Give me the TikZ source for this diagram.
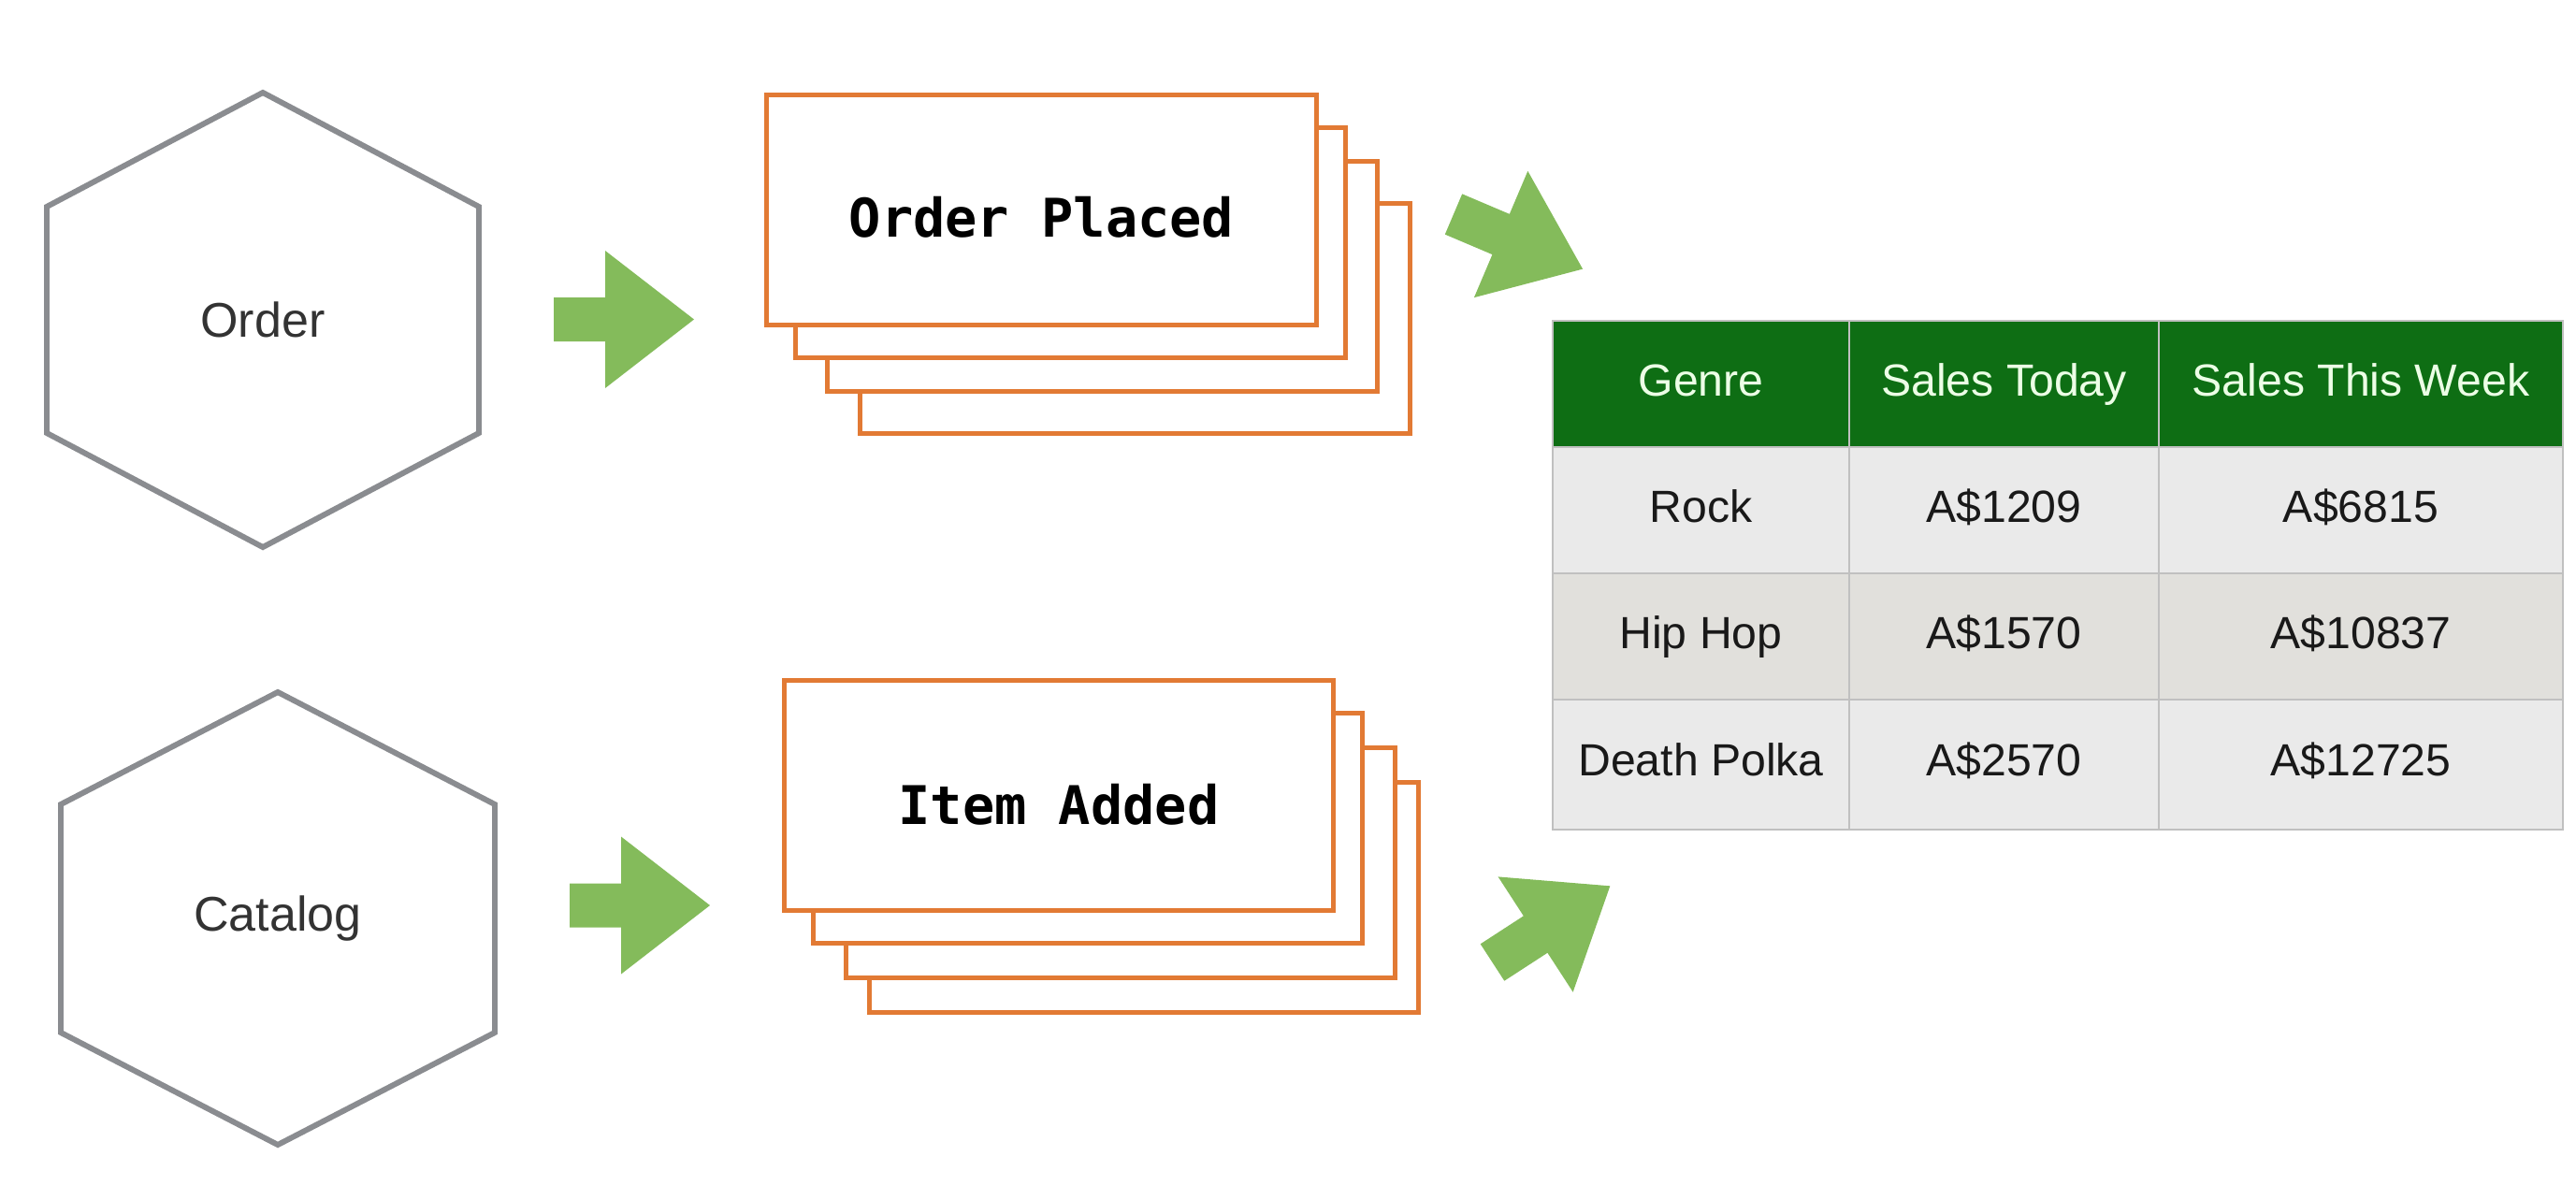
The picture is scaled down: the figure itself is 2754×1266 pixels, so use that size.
\documentclass[tikz,border=0pt]{standalone}
\usepackage{fontspec}
\setmainfont{Liberation Sans}
\newfontfamily\cardfont{DejaVu Sans Mono}
\definecolor{hexgray}{RGB}{138,140,144}
\definecolor{cardorange}{RGB}{226,122,52}
\definecolor{arrowgreen}{RGB}{132,187,91}
\definecolor{headgreen}{RGB}{14,110,20}
\definecolor{rowlight}{RGB}{234,234,234}
\definecolor{rowdark}{RGB}{225,224,220}
\definecolor{gridgray}{RGB}{192,192,192}
\definecolor{headtext}{RGB}{236,255,230}

\begin{document}
\begin{tikzpicture}[x=0.01cm,y=-0.01cm,
    hexline/.style={draw=hexgray,line width=1.7pt},
    hexlabel/.style={font=\fontsize{14.8}{18}\selectfont,text=black!80},
    card/.style={draw=cardorange,fill=white,line width=1.4pt,minimum width=5.87cm,minimum height=2.45cm,inner sep=0pt,font=\cardfont\bfseries\fontsize{16.2}{20}\selectfont},
    cardtxt/.style={font=\cardfont\bfseries\fontsize{16.2}{20}\selectfont},
    headtxt/.style={font=\fontsize{13.7}{16}\selectfont,text=headtext,text height=1.6ex,text depth=0.4ex},
    celltxt/.style={font=\fontsize{13.7}{16}\selectfont,text=black!90,text height=1.6ex,text depth=0.4ex},
    fatarrow/.pic={\fill[arrowgreen] (0,-23.5) -- (55,-23.5) -- (55,-73.5) -- (150,0) -- (55,73.5) -- (55,23.5) -- (0,23.5) -- cycle;}]
        \useasboundingbox (0,0) rectangle (2754,1266);
        % aggregates
        \node[hexlabel] (order) at (281,342) {Order};
        \draw[hexline,shift={(order.center)}] (0,-243) -- (231,-121) -- (231,121) -- (0,243) -- (-231,121) -- (-231,-121) -- cycle;
        \node[hexlabel] (catalog) at (297,982) {Catalog};
        \draw[hexline,shift={(catalog.center)}] (0,-242) -- (232,-122) -- (232,122) -- (0,242) -- (-232,122) -- (-232,-122) -- cycle;
        % event stacks
        \foreach \dx/\dy [count=\i] in {100/116,65/71,31/35}
            \node[card] (placedback\i) at ({1113.5+\dx},{224.5+\dy}) {};
        \node[card] (placed) at (1113.5,224.5) {};
        \node[cardtxt] (placedtxt) at (1113.5,232) {Order Placed};
        \foreach \dx/\dy [count=\i] in {91/109,66/72,31/35}
            \node[card] (addedback\i) at ({1132+\dx},{850.5+\dy}) {};
        \node[card] (added) at (1132,850.5) {};
        \node[cardtxt] (addedtxt) at (1132,860) {Item Added};
        % arrows
        \pic at (592,341.5) {fatarrow};
        \pic at (609,968) {fatarrow};
        \pic[rotate=-23] at (1554,229) {fatarrow};
        \pic[rotate=33] at (1595.5,1029) {fatarrow};
        % read model
        \fill[headgreen] (1660,343) rectangle (2740,478);
        \fill[rowlight] (1660,478) rectangle (2740,613);
        \fill[rowdark] (1660,613) rectangle (2740,748);
        \fill[rowlight] (1660,748) rectangle (2740,887);
        \draw[gridgray,line width=0.6pt] (1660,343) rectangle (2740,887);
        \foreach \y in {478,613,748} \draw[gridgray,line width=0.6pt] (1660,\y) -- (2740,\y);
        \foreach \x in {1977,2308} \draw[gridgray,line width=0.6pt] (\x,343) -- (\x,887);
        \foreach \x/\txt [count=\c] in {1818.5/Genre,2142.5/Sales Today,2524/Sales This Week}
            \node[headtxt] (head\c) at (\x,412) {\txt};
        \foreach \y/\g/\t/\w [count=\r] in {547/Rock/A\$1209/A\$6815,682/Hip Hop/A\$1570/A\$10837,818/Death Polka/A\$2570/A\$12725} {
            \node[celltxt] (genre\r) at (1818.5,\y) {\g};
            \node[celltxt] (today\r) at (2142.5,\y) {\t};
            \node[celltxt] (week\r) at (2524,\y) {\w};
        }
    \end{tikzpicture}
\end{document}
